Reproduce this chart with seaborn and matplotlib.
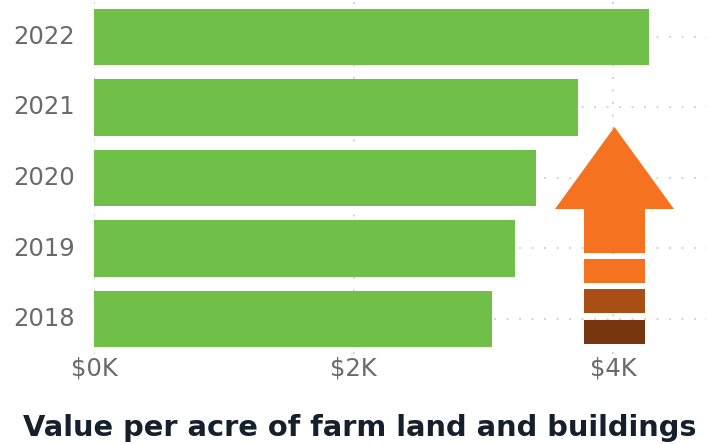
import matplotlib
matplotlib.use("Agg")
import matplotlib.pyplot as plt
from matplotlib.patches import Polygon, Rectangle
from matplotlib.transforms import Affine2D
import pandas as pd
import seaborn as sns

years = ["2022", "2021", "2020", "2019", "2018"]
value_per_acre = [4.28, 3.73, 3.41, 3.245, 3.07]
tick_values = [0, 2, 4]
tick_labels = ["$0K", "$2K", "$4K"]
title = "Value per acre of farm land and buildings"

W, H, DPI = 707, 444, 100
GREEN = "#70BF48"
GRID = "#D6D6D6"
TEXT = "#6A6A6A"
ORANGE = "#F57221"
RUST = "#A94E15"
DARK = "#78360F"

sns.set_theme(style="white")
plt.rcParams["font.family"] = ["DejaVu Sans"]

fig = plt.figure(figsize=(W / DPI, H / DPI), dpi=DPI, facecolor="white")
ax = fig.add_axes([94 / W, 1 - 354.25 / H, (W - 94) / W, 352.5 / H])

frame = pd.DataFrame({"year": years, "value": value_per_acre})
sns.barplot(data=frame, x="value", y="year", order=years, orient="h",
            color=GREEN, saturation=1, width=0.8, linewidth=0, ax=ax, zorder=3)

ax.set_xlim(0, (W - 94) / 129.75)
ax.set_xticks(tick_values, tick_labels)
ax.set_xlabel("")
ax.set_ylabel("")
ax.grid(True, axis="both", color=GRID, linestyle=(0, (1, 5)), linewidth=1.5, zorder=0)
ax.set_axisbelow(True)
ax.tick_params(axis="x", length=0, labelsize=17.5, labelcolor=TEXT, pad=1.5)
ax.tick_params(axis="y", length=0, labelsize=17.5, labelcolor=TEXT, pad=14)
for label in ax.get_yticklabels():
    label.set_verticalalignment("center")
sns.despine(ax=ax, left=True, bottom=True, top=True, right=True)

# Upward arrow with fading stripes, placed in pixel units from the top-left corner
to_pixels = Affine2D().scale(1, -1).translate(0, H)
arrow_outline = [(614.5, 127), (674, 209), (645, 209), (645, 253),
                 (584, 253), (584, 209), (555, 209)]
fig.add_artist(Polygon(arrow_outline, closed=True, facecolor=ORANGE,
                       edgecolor="none", transform=to_pixels))
for top, colour in [(259, ORANGE), (289, RUST), (320, DARK)]:
    fig.add_artist(Rectangle((584, top), 61, 24, facecolor=colour,
                             edgecolor="none", transform=to_pixels))

fig.text(360 / W, 1 - 428 / H, title, ha="center", va="center",
         fontsize=20.8, fontweight="bold", color="#14202C")

fig.savefig("out.png", dpi=DPI)
